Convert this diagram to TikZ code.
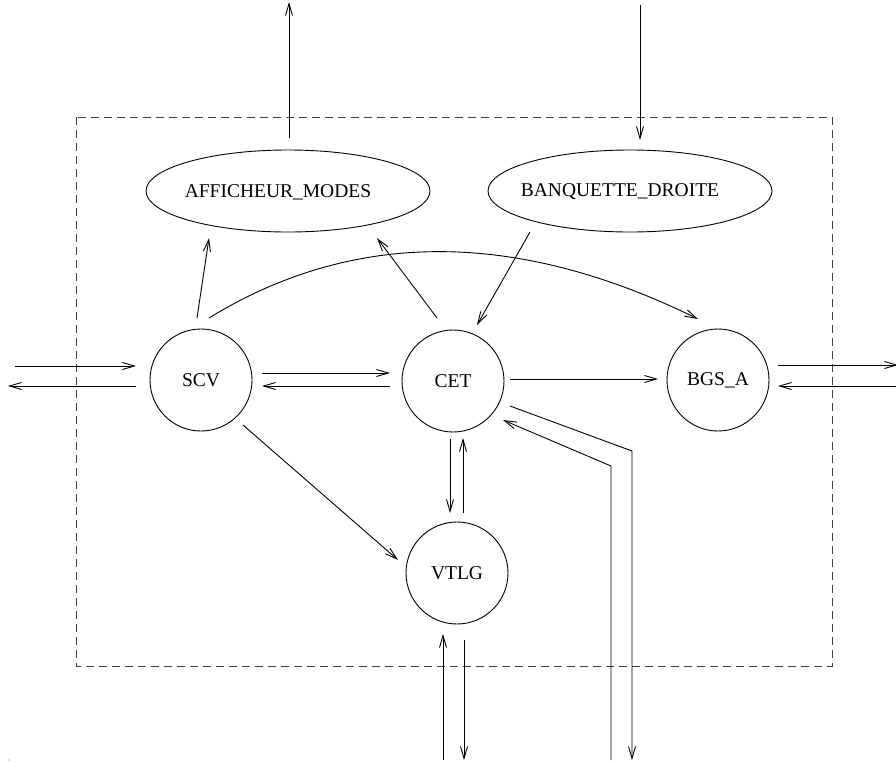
\documentclass[tikz,border=0pt]{standalone}
\usepackage{fontspec}
\setmainfont{Liberation Serif}
\usetikzlibrary{arrows.meta,shapes.geometric,calc}

\tikzset{
  proc/.style={circle, draw, line width=0.9pt, minimum size=102pt, inner sep=0pt, font=\fontsize{19.5}{22}\selectfont},
  store/.style={ellipse, draw, line width=0.9pt, minimum width=284pt, minimum height=82pt, inner sep=0pt},
  storetext/.style={font=\fontsize{19.5}{22}\selectfont, inner sep=0pt},
  flow/.style={line width=0.9pt, -{Straight Barb[length=12pt,width=7pt,line width=0.9pt]}},
  plain/.style={line width=0.9pt},
  frame/.style={line width=1pt, black!75, dash pattern=on 8pt off 5pt}
}

\begin{document}
\begin{tikzpicture}[x=1pt,y=-1pt]
  \useasboundingbox (0,0) rectangle (896,763);

  % system boundary
  \draw[frame] (76,117) rectangle (832,666);

  % processes
  \node[proc] (scv)  at (201,380) {SCV};
  \node[proc] (cet)  at (453,381) {CET};
  \node[proc] (bgs)  at (718,380) {BGS\_A};
  \node[proc] (vtlg) at (457,573) {VTLG};

  % stores
  \node[store] (aff) at (288,191) {};
  \node[storetext] (afflbl) at ($(aff)+(-10,1)$) {AFFICHEUR\_MODES};
  \node[store] (ban) at (630,191) {};
  \node[storetext] (banlbl) at ($(ban)+(-10,1)$) {BANQUETTE\_DROITE};

  % left side flows
  \draw[flow] ($(scv)+(-186,-14)$) -- ($(scv)+(-65,-14)$);
  \draw[flow] ($(scv)+(-65,6)$) -- ($(scv)+(-193,6)$);

  % SCV <-> CET
  \draw[flow] ($(scv)+(61,-7)$) -- ($(cet)+(-63,-8)$);
  \draw[flow] ($(cet)+(-63,5)$) -- ($(scv)+(61,6)$);

  % CET -> BGS_A
  \draw[flow] ($(cet)+(57,-2)$) -- ($(bgs)+(-60,-1)$);

  % right side flows
  \draw[flow] ($(bgs)+(60,-15)$) -- ($(bgs)+(180,-15)$);
  \draw[flow] ($(bgs)+(180,6)$) -- ($(bgs)+(60,6)$);

  % towards the stores
  \draw[flow] ($(scv)+(-4,-62)$) -- ($(aff)+(-79,47)$);
  \draw[flow] ($(cet)+(-16,-63)$) -- ($(aff)+(89,47)$);
  \draw[flow] ($(ban)+(-100,41)$) -- ($(cet)+(24,-56)$);

  % SCV -> BGS_A arc
  \draw[flow] ($(scv)+(8,-62)$) .. controls ($(scv)+(153,-151)$) and ($(bgs)+(-201,-150)$) .. ($(bgs)+(-20,-61)$);

  % top flows
  \draw[flow] ($(aff)+(1,-53)$) -- ($(aff)+(1,-189)$);
  \draw[flow] ($(ban)+(10,-186)$) -- ($(ban)+(10,-51)$);

  % CET <-> VTLG
  \draw[flow] ($(cet)+(-3,58)$) -- ($(vtlg)+(-7,-60)$);
  \draw[flow] ($(vtlg)+(6,-60)$) -- ($(cet)+(10,57)$);

  % SCV -> VTLG
  \draw[flow] ($(scv)+(42,45)$) -- ($(vtlg)+(-59,-13)$);

  % bottom flows of VTLG
  \draw[flow] ($(vtlg)+(-14,187)$) -- ($(vtlg)+(-14,61)$);
  \draw[flow] ($(vtlg)+(7,67)$) -- ($(vtlg)+(7,187)$);

  % bent flows of CET
  \draw[flow] ($(cet)+(57,25)$) -- ($(cet)+(179,70)$) -- ($(cet)+(179,379)$);
  \draw[flow] ($(cet)+(158,379)$) -- ($(cet)+(158,85)$) -- ($(cet)+(50,39)$);

  % stray mark
  \fill[black!50] (9,760) circle (0.7);
\end{tikzpicture}
\end{document}
